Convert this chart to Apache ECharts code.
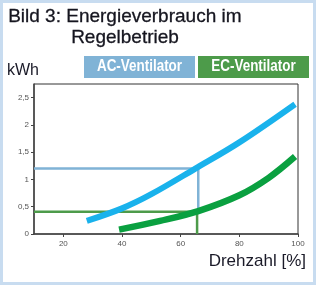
<!DOCTYPE html>
<html><head><meta charset="utf-8">
<script src="https://cdn.jsdelivr.net/npm/echarts@6/dist/echarts.min.js"></script>
<style>html,body{margin:0;padding:0;background:#fff}#c{width:318px;height:287px}</style>
</head><body><div id="c"></div>
<script>
const titleLine1 = "Bild 3: Energieverbrauch im";
const titleLine2 = "Regelbetrieb";
const yUnit = "kWh";
const xName = "Drehzahl [%]";
const legendNames = ["AC-Ventilator", "EC-Ventilator"];
const xTicks = [20, 40, 60, 80, 100];
const yTicks = [0, 0.5, 1, 1.5, 2, 2.5];
const acCurve = [[28,0.24],[40,0.47],[50,0.73],[65,1.2],[80,1.68],[99,2.38]];
const ecCurve = [[39,0.08],[53,0.24],[66,0.42],[80,0.71],[90,1.03],[99,1.42]];
const acRef = [[10,1.2],[66,1.2],[66,0.41]];
const ecRef = [[10,0.41],[65.6,0.41],[65.6,0]];

const chart = echarts.init(document.getElementById('c'), null, {renderer:'canvas'});
const F = 'Liberation Sans, Arial, sans-serif';
chart.setOption({
  animation:false,
  grid:{left:34,right:20,top:84,bottom:53,show:true,borderColor:'#333',borderWidth:1,backgroundColor:'#fff'},
  xAxis:{type:'value',min:10,max:100,
    axisLine:{lineStyle:{color:'#444',width:1.5}},
    axisTick:{show:true,customValues:xTicks,length:3,lineStyle:{color:'#444'}},
    axisLabel:{customValues:xTicks,color:'#555',fontSize:8,fontFamily:F,margin:6},
    splitLine:{show:false}},
  yAxis:{type:'value',min:0,max:2.75,
    axisLine:{show:true,lineStyle:{color:'#444',width:1.5}},
    axisTick:{show:true,customValues:yTicks,length:3,lineStyle:{color:'#444'}},
    axisLabel:{customValues:yTicks,color:'#555',fontSize:8,fontFamily:F,margin:5,
      formatter:v=>String(v).replace('.',',')},
    splitLine:{show:false}},
  graphic:[
    {type:'rect',shape:{x:1.5,y:1.5,width:313,height:282},style:{fill:'none',stroke:'#c8dcf0',lineWidth:3},z:-1},
    {type:'text',left:8,top:7,style:{text:titleLine1,font:'19px '+F,fill:'#15151f',stroke:'#15151f',lineWidth:0.3}},
    {type:'text',left:71,top:28,style:{text:titleLine2,font:'19px '+F,fill:'#15151f',stroke:'#15151f',lineWidth:0.3}},
    {type:'text',left:7,top:63,style:{text:yUnit,font:'16px '+F,fill:'#1a1a28'}},
    {type:'group',left:84,top:56,children:[
      {type:'rect',shape:{x:0,y:0,width:111,height:22},style:{fill:'#80b3d6'}},
      {type:'text',x:55.5,y:11,scaleX:0.84,style:{text:legendNames[0],x:0,y:0,align:'center',verticalAlign:'middle',font:'bold 16px '+F,fill:'#fff'}}
    ]},
    {type:'group',left:198,top:56,children:[
      {type:'rect',shape:{x:0,y:0,width:111,height:22},style:{fill:'#4d9b4a'}},
      {type:'text',x:55.5,y:11,scaleX:0.84,style:{text:legendNames[1],x:0,y:0,align:'center',verticalAlign:'middle',font:'bold 16px '+F,fill:'#fff'}}
    ]},
    {type:'text',right:12,top:253,style:{text:xName,font:'17px '+F,fill:'#1a1a28'}}
  ],
  series:[
    {type:'line',data:acRef,symbol:'none',lineStyle:{color:'#80b3d6',width:2.5},z:2},
    {type:'line',data:ecRef,symbol:'none',lineStyle:{color:'#4d9b4a',width:2.5},z:2},
    {type:'line',data:acCurve,smooth:0.35,symbol:'none',lineStyle:{color:'#19b2ec',width:6,cap:'butt'},z:3},
    {type:'line',data:ecCurve,smooth:0.35,symbol:'none',lineStyle:{color:'#0aa040',width:6.5,cap:'butt'},z:3}
  ]
});
</script></body></html>
